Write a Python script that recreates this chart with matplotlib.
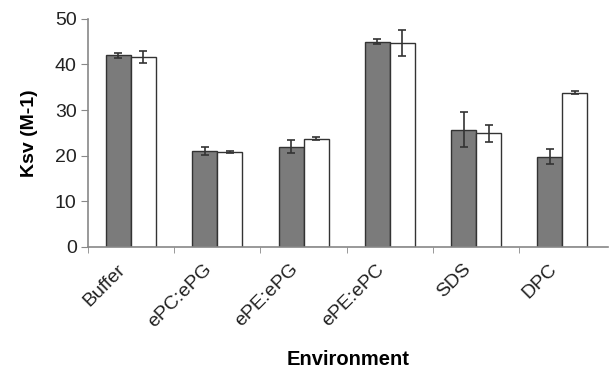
import matplotlib.pyplot as plt
import matplotlib.transforms as mtransforms
import numpy as np

plt.rcParams['font.family'] = ['Liberation Sans', 'DejaVu Sans']

# 数据
environments = ['Buffer', 'ePC:ePG', 'ePE:ePG', 'ePE:ePC', 'SDS', 'DPC']
gray_vals = [42.0, 21.0, 22.0, 45.0, 25.7, 19.8]
gray_err = [0.5, 0.8, 1.5, 0.5, 3.8, 1.6]
white_vals = [41.7, 20.8, 23.7, 44.7, 24.9, 33.8]
white_err = [1.3, 0.3, 0.3, 2.8, 1.8, 0.3]

fig = plt.figure(figsize=(6.1, 3.69), dpi=100)
ax = fig.add_axes([0.144, 0.331, 0.853, 0.618])

x = np.arange(len(environments))
w = 0.29
ekw = dict(ecolor='#333333', elinewidth=1.2, capsize=3, capthick=1.2)
ax.bar(x - w / 2, gray_vals, w, color='#7b7b7b', edgecolor='#333333', linewidth=1.0,
       yerr=gray_err, error_kw=ekw)
ax.bar(x + w / 2, white_vals, w, color='white', edgecolor='#333333', linewidth=1.0,
       yerr=white_err, error_kw=ekw)

ax.set_xlim(-0.5, 5.53)
ax.set_ylim(0, 50)
ax.set_yticks([0, 10, 20, 30, 40, 50])

# 类别标签放在中间，刻度线放在边界
ax.set_xticks(x)
ax.set_xticklabels(environments, rotation=45, ha='right', va='top', rotation_mode='anchor')
ax.tick_params(axis='x', which='major', length=0, pad=10)
ax.set_xticks(np.arange(-0.5, 5.5, 1), minor=True)
ax.tick_params(axis='x', which='minor', length=4, color='#888888', direction='out')
ax.tick_params(axis='y', length=5, color='#888888', labelsize=14, labelcolor='#222222', pad=3)
ax.tick_params(axis='x', labelsize=14, labelcolor='#222222')

# 标签整体往左挪一点
offset = mtransforms.ScaledTranslation(-14 / 100, 0, fig.dpi_scale_trans)
for lbl in ax.get_xticklabels():
    lbl.set_transform(lbl.get_transform() + offset)

for side in ['top', 'right']:
    ax.spines[side].set_visible(False)
for side in ['left', 'bottom']:
    ax.spines[side].set_color('#888888')
    ax.spines[side].set_linewidth(1.2)

ax.set_ylabel('Ksv (M-1)', fontsize=14, fontweight='bold', labelpad=12)
ax.set_xlabel('Environment', fontsize=14.5, fontweight='bold', labelpad=14)

plt.savefig('out.png', dpi=100)
